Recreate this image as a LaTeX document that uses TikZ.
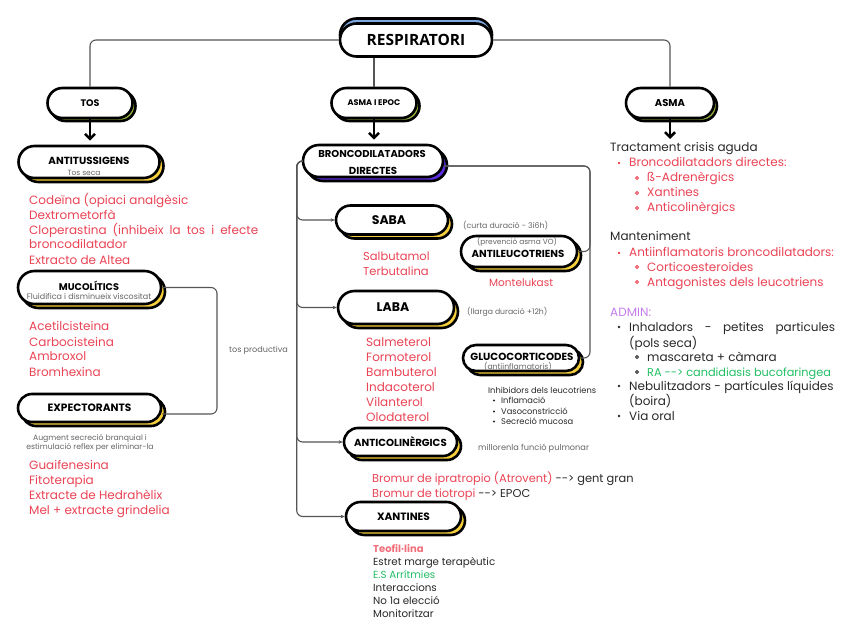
\documentclass[tikz,border=0pt]{standalone}
\usepackage{fontspec}
\setmainfont{Poppins}
\newfontfamily\headfont{Open Sans}
\usetikzlibrary{shadows,arrows.meta,shapes.misc}
\newcommand{\myfs}[1]{\fontsize{#1}{#1}\selectfont}
\newcommand{\darr}{-{}-{}>}
\definecolor{cred}{RGB}{234,67,84}
\definecolor{cpink}{RGB}{240,110,122}
\definecolor{cgray}{RGB}{100,100,100}
\definecolor{cdark}{RGB}{40,40,40}
\definecolor{cgreen}{RGB}{34,190,100}
\definecolor{cviolet}{RGB}{196,125,235}
\definecolor{cyel}{RGB}{246,208,60}
\definecolor{cpur}{RGB}{92,45,225}
\definecolor{cblue}{RGB}{125,168,225}
\definecolor{colive}{RGB}{150,180,60}
\definecolor{cline}{RGB}{85,85,85}
\begin{document}
\begin{tikzpicture}[x=1pt,y=-1pt,
  txt/.style={anchor=base west,inner sep=0pt,font=\myfs{12},text=cdark},
  redt/.style={txt,text=cred},
  note/.style={inner sep=0pt,font=\myfs{7.7},text=cgray},
  lab/.style={inner sep=0pt,font=\bfseries\myfs{#1}},
  pill/.style={rounded rectangle,draw=black,line width=2.6pt,fill=white,inner sep=0pt},
  shy/.style={copy shadow={shadow xshift=4pt,shadow yshift=-4pt,fill=cyel,draw=black,line width=2.6pt}},
  shp/.style={copy shadow={shadow xshift=4pt,shadow yshift=-4pt,fill=cpur,draw=black,line width=2.6pt}},
  shg/.style={copy shadow={shadow xshift=3pt,shadow yshift=-3pt,fill=colive,draw=black,line width=2.6pt}},
  shb/.style={copy shadow={shadow xshift=0pt,shadow yshift=5pt,fill=cblue,draw=black,line width=2.6pt}},
  conn/.style={draw=cline,line width=1.1pt,rounded corners=6pt},
  brarrow/.style={conn,-{Stealth[length=4pt,width=3.5pt]}},
  big/.style={line width=2.6pt,-{Straight Barb[length=5pt,width=10pt]}}
]
\useasboundingbox (0,0) rectangle (848,636);

% ---------- nodes ----------
\node[pill,shb,minimum width=152pt,minimum height=33pt,font=\headfont\bfseries\myfs{15.5}] (resp) at (416,40) {RESPIRATORI};

\node[pill,shg,minimum width=85pt,minimum height=30pt] (tos) at (90,103) {};
\node[lab=9.5] at (tos.center) {TOS};
\node[pill,shg,minimum width=85pt,minimum height=30pt] (aepoc) at (374,103) {};
\node[lab=8.2] at (aepoc.center) {ASMA I EPOC};
\node[pill,shg,minimum width=88pt,minimum height=30pt] (asma) at (670,103) {};
\node[lab=10] at (asma.center) {ASMA};

\node[pill,shy,minimum width=141pt,minimum height=32pt] (antit) at (89,162) {};
\node[lab=10.3] at (89,161) {ANTITUSSIGENS};
\node[note,font=\myfs{7.5}] at (84,172.5) {Tos seca};

\node[pill,shp,minimum width=140pt,minimum height=32pt] (bronco) at (373,161) {};
\node[lab=10] at (372,154) {BRONCODILATADORS};
\node[lab=10.2] at (373,171) {DIRECTES};

\node[pill,shy,minimum width=143pt,minimum height=33pt] (muco) at (89.5,287.5) {};
\node[lab=9.7] at (89,286) {MUCOLÍTICS};
\node[note,font=\myfs{8}] at (89,296.5) {Fluidifica i disminueix viscositat};

\node[pill,shy,minimum width=143pt,minimum height=28pt] (expect) at (89.5,408) {};
\node[lab=10.6] at (expect.center) {EXPECTORANTS};

\node[pill,shy,minimum width=112pt,minimum height=29pt] (saba) at (392,220) {};
\node[lab=12.5] at (389,220) {SABA};
\node[pill,shy,minimum width=116pt,minimum height=31pt] (antileu) at (519,251.5) {};
\node[note,font=\myfs{7.4}] at (517,242) {(prevenció asma VO)};
\node[lab=10.2] at (518,254) {ANTILEUCOTRIENS};

\node[pill,shy,minimum width=116pt,minimum height=33pt] (laba) at (396,307.5) {};
\node[lab=12.5] at (393,307) {LABA};

\node[pill,shy,minimum width=116pt,minimum height=26pt] (gluco) at (521,358) {};
\node[lab=10.3] at (522,357) {GLUCOCORTICODES};
\node[note] at (518,367) {(antiinflamatoris)};

\node[pill,shy,minimum width=113pt,minimum height=28pt] (antic) at (400.5,442) {};
\node[lab=10.2] at (antic.center) {ANTICOLINÈRGICS};
\node[pill,shy,minimum width=115pt,minimum height=29pt] (xant) at (403.5,516.5) {};
\node[lab=10.6] at (xant.center) {XANTINES};

% ---------- connectors ----------
\draw[conn] (resp.west) -| (tos.north);
\draw[conn] (resp.east) -| (asma.north);
\draw[conn] (aepoc.north |- resp.south) -- (aepoc.north);

\draw[big] (tos.south) -- ([yshift=4pt]tos.south |- antit.north);
\draw[big] (aepoc.south) -- ([yshift=4pt]aepoc.south |- bronco.north);
\coordinate (asmaend) at (670,139);
\draw[big] (asma.south) -- (asmaend);

\coordinate (ltrunk) at ([xshift=-5pt]bronco.west);
\draw[brarrow] (bronco.west) -- (ltrunk) |- (saba.west);
\draw[brarrow] (bronco.west) -- (ltrunk) |- (laba.west);
\draw[brarrow] (bronco.west) -- (ltrunk) |- (antic.west);
\draw[brarrow] (bronco.west) -- (ltrunk) |- (xant.west);

\coordinate (rtx) at (590,0);
\coordinate (bre) at ([yshift=-5pt]bronco.east);
\draw[conn] (bre) -- (rtx |- bre) |- (antileu.east);
\draw[conn] (bre) -- (rtx |- bre) |- (gluco.east);

\coordinate (mx) at (217,0);
\coordinate (exe) at ([yshift=-6pt]expect.east);
\draw[conn] (muco.east) -- (mx |- muco.east) |- (exe);
\node[note,anchor=base west,font=\myfs{8.1}] at (229,352) {tos productiva};

% ---------- left column ----------
\node[redt] at (29,205) {Codeïna (opiaci analgèsic};
\node[redt] at (29,220) {Dextrometorfà};
\node[redt] at (29,235) {\makebox[229pt][s]{Cloperastina (inhibeix la tos i efecte}};
\node[redt] at (29,249) {broncodilatador};
\node[redt] at (29,265) {Extracto de Altea};

\node[redt] at (29,330) {Acetilcisteina};
\node[redt] at (29,346) {Carbocisteina};
\node[redt] at (29,360) {Ambroxol};
\node[redt] at (29,376) {Bromhexina};

\node[note,anchor=base] at (90,440) {Augment secreció branquial i};
\node[note,anchor=base] at (90,449.5) {estimulació reflex per eliminar-la};
\node[redt] at (29,469) {Guaifenesina};
\node[redt] at (29,484) {Fitoterapia};
\node[redt] at (29,499) {Extracte de Hedrahèlix};
\node[redt] at (29,514) {Mel + extracte grindelia};

% ---------- middle column ----------
\node[note,anchor=base west,font=\myfs{7.8}] at (463,228.5) {(curta duració - 3i6h)};
\node[redt,font=\myfs{11.5}] at (363,261) {Salbutamol};
\node[redt,font=\myfs{11.5}] at (363,275) {Terbutalina};
\node[redt,font=\myfs{10.5}] at (489,287) {Montelukast};

\node[note,anchor=base west] at (467,314.5) {(llarga duració +12h)};
\node[redt] at (366,346) {Salmeterol};
\node[redt] at (366,361) {Formoterol};
\node[redt] at (366,376) {Bambuterol};
\node[redt] at (366,391) {Indacoterol};
\node[redt] at (366,406) {Vilanterol};
\node[redt] at (366,421) {Olodaterol};

\node[txt,font=\myfs{8.3},text=cdark] at (488,393) {Inhibidors dels leucotriens};
\fill[cdark] (494,400.5) circle (1.2pt);
\fill[cdark] (494,411.5) circle (1.2pt);
\fill[cdark] (494,421.5) circle (1.2pt);
\node[txt,font=\myfs{8.3},text=cdark] at (501,403) {Inflamació};
\node[txt,font=\myfs{8.3},text=cdark] at (501,414) {Vasoconstricció};
\node[txt,font=\myfs{8.3},text=cdark] at (501,424) {Secreció mucosa};

\node[note,anchor=base west,font=\myfs{8.2}] at (478,450) {millorenla funció pulmonar};
\node[txt,font=\myfs{11.4}] at (372,482) {\textcolor{cred}{Bromur de ipratropio (Atrovent)} \darr{} gent gran};
\node[txt,font=\myfs{11.4}] at (372,497) {\textcolor{cred}{Bromur de tiotropi} \darr{} EPOC};

\node[txt,font=\bfseries\myfs{10},text=cpink] at (373,552) {Teofil·lina};
\node[txt,font=\myfs{10.3}] at (373,565) {Estret marge terapèutic};
\node[txt,font=\myfs{10.3},text=cgreen] at (373,578) {E.S Arrítmies};
\node[txt,font=\myfs{10.3}] at (373,591) {Interaccions};
\node[txt,font=\myfs{10.3}] at (373,604) {No 1a elecció};
\node[txt,font=\myfs{10.3}] at (373,617) {Monitoritzar};

% ---------- right column ----------
\node[txt] at (610,152) {Tractament crisis aguda};
\fill[cred] (619,163) circle (1.4pt);
\node[redt] at (629,167) {Broncodilatadors directes:};
\draw[cred,line width=0.9pt] (637,178) circle (1.6pt);
\node[redt] at (647,182) {ß-Adrenèrgics};
\draw[cred,line width=0.9pt] (637,193) circle (1.6pt);
\node[redt] at (647,197) {Xantines};
\draw[cred,line width=0.9pt] (637,208) circle (1.6pt);
\node[redt] at (647,212) {Anticolinèrgics};

\node[txt] at (610,241) {Manteniment};
\fill[cred] (619,253) circle (1.4pt);
\node[redt] at (629,257) {Antiinflamatoris broncodilatadors:};
\draw[cred,line width=0.9pt] (637,267) circle (1.6pt);
\node[redt] at (647,271) {Corticoesteroides};
\draw[cred,line width=0.9pt] (637,282) circle (1.6pt);
\node[redt] at (647,286) {Antagonistes dels leucotriens};

\node[txt,text=cviolet] at (610,316) {ADMIN:};
\fill[cdark] (619,327) circle (1.4pt);
\node[txt] at (629,331) {\makebox[206pt][s]{Inhaladors - petites particules}};
\node[txt] at (629,347) {(pols seca)};
\draw[cdark,line width=0.9pt] (637,357) circle (1.6pt);
\node[txt] at (647,361) {mascareta + càmara};
\draw[cdark,line width=0.9pt] (637,372) circle (1.6pt);
\node[txt,text=cgreen,font=\myfs{11.3}] at (647,376) {RA \darr{} candidiasis bucofaringea};
\fill[cdark] (619,386) circle (1.4pt);
\node[txt] at (629,390) {Nebulitzadors - partícules líquides};
\node[txt] at (629,405) {(boira)};
\fill[cdark] (619,416) circle (1.4pt);
\node[txt] at (629,420) {Via oral};
\end{tikzpicture}
\end{document}
